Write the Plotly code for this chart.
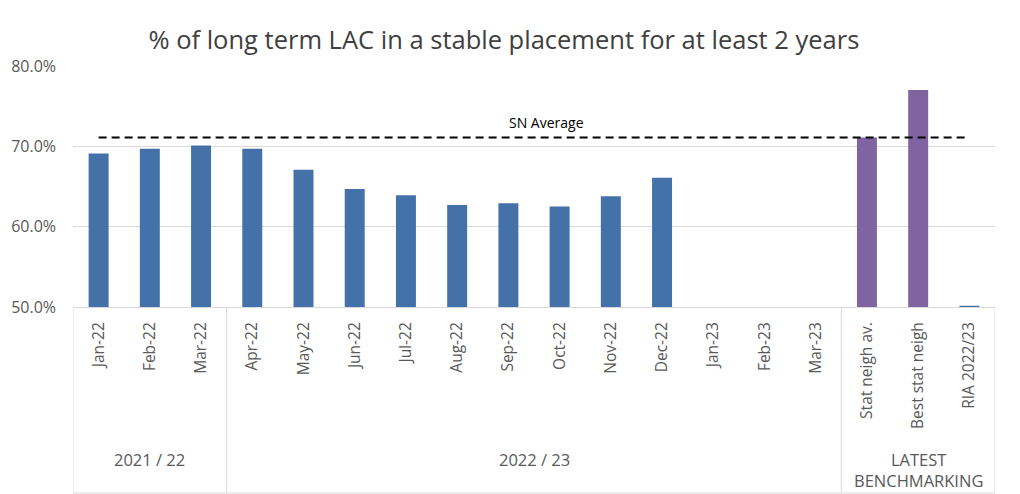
import plotly.graph_objects as go

categories = ["Jan-22", "Feb-22", "Mar-22", "Apr-22", "May-22", "Jun-22", "Jul-22",
              "Aug-22", "Sep-22", "Oct-22", "Nov-22", "Dec-22", "Jan-23", "Feb-23",
              "Mar-23", "Stat neigh av.", "Best stat neigh", "RIA 2022/23"]
values = [69.1, 69.7, 70.1, 69.7, 67.1, 64.7, 63.9, 62.7, 62.9, 62.5, 63.8, 66.1,
          None, None, None, 71.1, 77.0, 50.15]
bar_kind = ["month"] * 15 + ["bench", "bench", "month"]
groups = ["2021 / 22", "2022 / 23", "LATEST<br>BENCHMARKING"]
group_sizes = [3, 12, 3]
sn_average = 71.1
sn_label = "SN Average"
title = "% of long term LAC in a stable placement for at least 2 years"
yticks = [50, 60, 70, 80]
ytick_text = ["50.0%", "60.0%", "70.0%", "80.0%"]

BLUE = "#4472A8"
PURPLE = "#8064A2"
GRID = "#d9d9d9"
TXT = "#595959"
FONT = "Open Sans"

xs = list(range(len(categories)))
colors = [BLUE if k == "month" else PURPLE for k in bar_kind]

fig = go.Figure()
fig.add_trace(go.Bar(x=xs, y=values, width=0.39, marker=dict(color=colors, line=dict(width=0)),
                     showlegend=False))
fig.add_trace(go.Scatter(x=xs, y=[sn_average] * len(xs), mode="lines",
                         line=dict(color="black", width=2, dash="8px,5px"), showlegend=False))

fig.add_annotation(x=8.75, y=sn_average, xref="x", yref="y", text=sn_label, showarrow=False,
                   yshift=15, font=dict(family=FONT, size=14, color="black"))

# group dividers and labels
bottom = (307 - 493) / 241
start = -0.5
fig.add_shape(type="line", xref="x", yref="paper", x0=start, x1=start, y0=0, y1=bottom,
              line=dict(color=GRID, width=1))
for g, n in zip(groups, group_sizes):
    end = start + n
    fig.add_shape(type="line", xref="x", yref="paper", x0=end, x1=end, y0=0, y1=bottom,
                  line=dict(color=GRID, width=1))
    two = "<br>" in g
    fig.add_annotation(x=(start + end) / 2, xref="x", yref="paper",
                       y=(307 - (470 if two else 459)) / 241, yanchor="middle",
                       text=g, showarrow=False,
                       font=dict(family=FONT, size=16.5, color=TXT))
    start = end
fig.add_shape(type="line", xref="x", yref="paper", x0=-0.5, x1=len(xs) - 0.5, y0=bottom, y1=bottom,
              line=dict(color=GRID, width=1))

fig.update_layout(
    width=1020, height=494,
    margin=dict(l=73, r=25, t=66, b=187),
    paper_bgcolor="white", plot_bgcolor="white",
    title=dict(text=title, x=0.494, xanchor="center", xref="container",
               y=1 - 40 / 494, yanchor="middle", yref="container",
               font=dict(family=FONT, size=25.5, color="#404040")),
    font=dict(family=FONT, color=TXT),
    bargap=0.6,
)
fig.update_xaxes(range=[-0.5, len(xs) - 0.5], tickvals=xs, ticktext=categories, tickangle=-90,
                 showgrid=False, showline=True, linecolor=GRID, linewidth=1, ticks="",
                 tickfont=dict(family=FONT, size=15.5, color=TXT), ticklabelstandoff=8,
                 zeroline=False)
fig.update_yaxes(range=[50, 80], tickvals=yticks, ticktext=ytick_text, showgrid=True,
                 gridcolor=GRID, gridwidth=1, zeroline=False, showline=False, ticks="",
                 tickfont=dict(family=FONT, size=16, color=TXT), ticklabelstandoff=16)

fig.write_html("out.html", config={"displayModeBar": False},
               post_script="document.body.style.margin='0';document.body.style.overflow='hidden';")
